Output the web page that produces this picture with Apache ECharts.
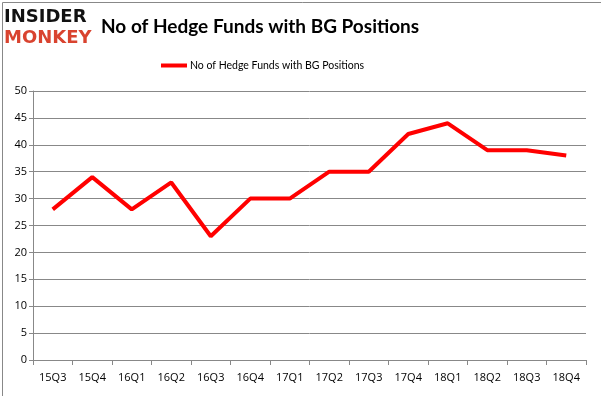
<!DOCTYPE html>
<html><head><meta charset="utf-8">
<script src="https://cdn.jsdelivr.net/npm/echarts@6/dist/echarts.min.js"></script>
<style>html,body{margin:0;padding:0;background:#fff}#c{width:601px;height:396px}</style>
</head><body><div id="c"></div>
<script>
const categories = ['15Q3','15Q4','16Q1','16Q2','16Q3','16Q4','17Q1','17Q2','17Q3','17Q4','18Q1','18Q2','18Q3','18Q4'];
const seriesName = 'No of Hedge Funds with BG Positions';
const values = [28, 34, 28, 33, 23, 30, 30, 35, 35, 42, 44, 39, 39, 38];
const chart = echarts.init(document.getElementById('c'), null, {renderer: 'canvas'});
chart.setOption({
  animation: false,
  title: {
    text: 'No of Hedge Funds with BG Positions',
    left: 96, top: 12,
    textStyle: {fontFamily: 'Lato', fontWeight: 'bold', fontSize: 19, color: '#000'}
  },
  graphic: [
    {type: 'rect', left: 0, top: 0, shape: {x: 0.5, y: 0.5, width: 600, height: 395}, style: {fill: 'none', stroke: '#888', lineWidth: 1}, silent: true},
    {type: 'text', left: 4, top: 8, style: {text: 'INSIDER', fontFamily: 'DejaVu Sans', fontWeight: 'bold', fontSize: 18, fill: '#111'}},
    {type: 'text', left: 4, top: 29, style: {text: 'MONKEY', fontFamily: 'DejaVu Sans', fontWeight: 'bold', fontSize: 18, fill: '#d9432f'}}
  ],
  legend: {
    top: 55, left: 156,
    itemWidth: 26, itemHeight: 4, itemGap: 4,
    icon: 'rect',
    textStyle: {fontFamily: 'Lato', fontSize: 10.5, color: '#000', padding: [0,0,0,-2]},
    data: [seriesName]
  },
  grid: {left: 33, right: 15, top: 91, bottom: 36},
  xAxis: {
    type: 'category', data: categories, boundaryGap: true,
    axisLine: {lineStyle: {color: '#888'}},
    axisTick: {show: true, alignWithLabel: false, length: 5, lineStyle: {color: '#888'}},
    axisLabel: {fontFamily: 'Open Sans', fontSize: 11, color: '#000', margin: 12}
  },
  yAxis: {
    type: 'value', min: 0, max: 50, interval: 5,
    axisLine: {show: true, lineStyle: {color: '#888'}},
    axisTick: {show: true, length: 4, lineStyle: {color: '#888'}},
    splitLine: {lineStyle: {color: '#888'}},
    axisLabel: {fontFamily: 'Open Sans', fontSize: 11, color: '#000', margin: 6}
  },
  series: [{
    name: seriesName, type: 'line', data: values,
    symbol: 'none',
    lineStyle: {color: '#ff0000', width: 4},
    itemStyle: {color: '#ff0000'}
  }]
});
</script></body></html>
